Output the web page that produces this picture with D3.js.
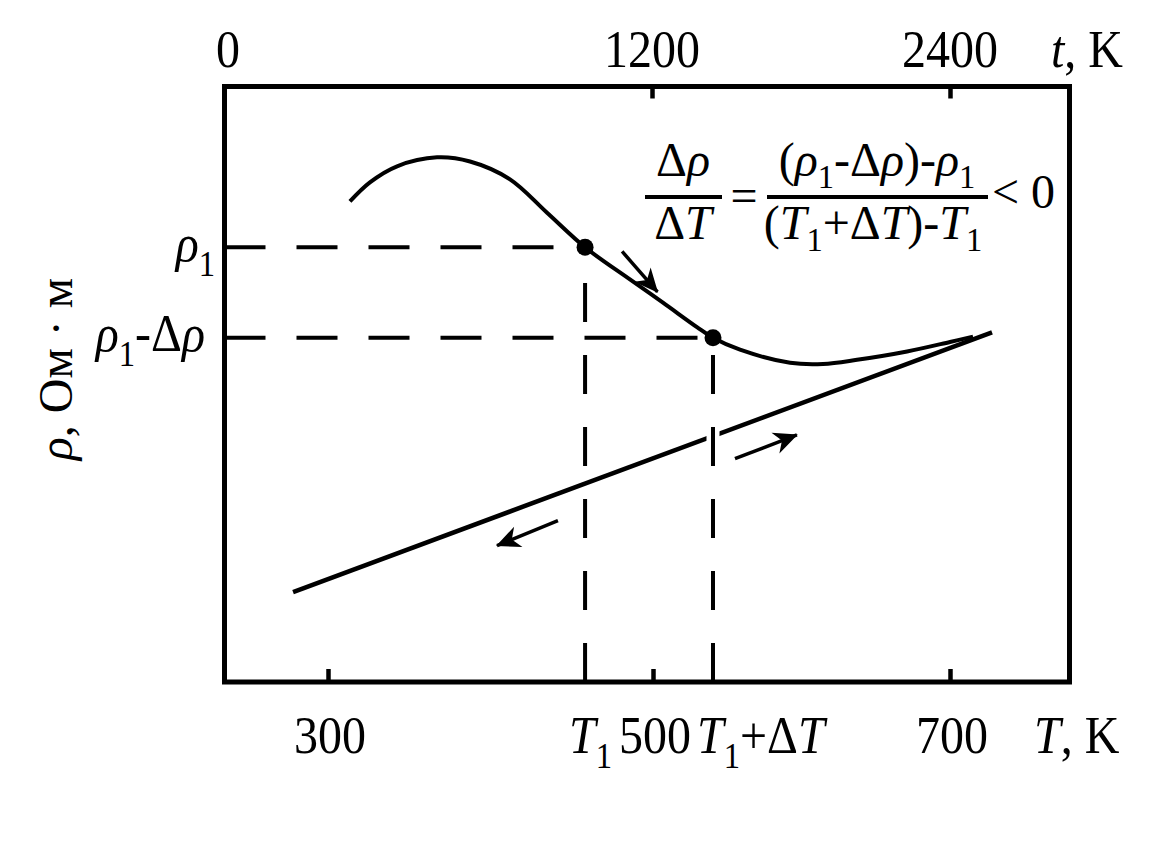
<!DOCTYPE html>
<html><head><meta charset="utf-8">
<script src="https://cdn.jsdelivr.net/npm/d3@7"></script>
<style>
body{margin:0;background:#fff}
svg{display:block}
text{font-family:"Liberation Serif","Times New Roman",serif;fill:#000}
</style>
</head><body><svg id="c" width="1174" height="860"></svg>
<script>
// ---- data (schematic values) ----
const bottomTicks = [300, 500, 700];
const bottomTickLabels = ["300", "500", "700"];
const topTicks = [0, 1200, 2400];
const topTickLabels = ["0", "1200", "2400"];
const curveT   = [313.5, 325.8, 342.5, 367.1, 387.4, 412.0, 434.8, 458.2, 485.8, 506.7, 529.6, 540.4, 558.6, 592.3, 614.5, 637.4, 671.1, 700.0, 715.5];
const curveRho = [80.7, 83.9, 86.6, 88.1, 87.4, 84.4, 78.8, 73.0, 67.6, 63.7, 59.6, 57.8, 55.8, 53.6, 53.4, 54.1, 55.5, 57.1, 58.0];
const lineT   = [278.5, 728.3];
const lineRho = [15.1, 58.7];
const markT   = [458.2, 540.4];   // T1, T1+ΔT
const markRho = [73.0, 57.8];     // ρ1, ρ1-Δρ
const arrowFromT   = [481.0, 555.2, 441.5];
const arrowFromRho = [72.3, 37.5, 27.1];
const arrowToT     = [503.0, 596.9, 404.0];
const arrowToRho   = [65.5, 41.5, 22.9];

// ---- layout ----
const frame = {left: 224.5, right: 1069.5, top: 86.5, bottom: 682};
const FS = 48, SY = 1.1;

const svg = d3.select("#c");
const x = d3.scaleLinear().domain([300, 500, 700]).range([328, 653, 950]);
const xt = d3.scaleLinear().domain([0, 1200, 2400]).range([228, 652, 950]);
const y = d3.scaleLinear().domain([0, 100]).range([frame.bottom, frame.top]);
const T0 = x.invert(frame.left);

// arrow marker
const defs = svg.append("defs");
defs.append("marker").attr("id", "ah")
  .attr("markerUnits", "userSpaceOnUse")
  .attr("viewBox", "-26 -13 28 26").attr("refX", 0).attr("refY", 0)
  .attr("markerWidth", 28).attr("markerHeight", 26).attr("orient", "auto")
  .append("path").attr("d", "M1,0 L-23,-11 L-16,0 L-23,11 Z").attr("fill", "#000");

// frame
svg.append("rect").attr("x", frame.left).attr("y", frame.top)
  .attr("width", frame.right - frame.left).attr("height", frame.bottom - frame.top)
  .attr("fill", "none").attr("stroke", "#000").attr("stroke-width", 5);

// ticks through d3 axes
const axB = svg.append("g").attr("transform", `translate(0,${frame.bottom})`)
  .call(d3.axisBottom(x).tickValues(bottomTicks).tickSize(-13).tickFormat(""));
const axT = svg.append("g").attr("transform", `translate(0,${frame.top})`)
  .call(d3.axisTop(xt).tickValues(topTicks.slice(1)).tickSize(-12).tickFormat(""));
[axB, axT].forEach(a => {
  a.select(".domain").remove();
  a.selectAll(".tick line").attr("stroke", "#000").attr("stroke-width", 4.5);
});

// dashed guide lines
const dashH = "41,31", dashV = "39,33";
markRho.forEach((r, i) => {
  svg.append("line").attr("x1", x(T0)).attr("x2", x(markT[i]))
    .attr("y1", y(r)).attr("y2", y(r))
    .attr("stroke", "#000").attr("stroke-width", 4).attr("stroke-dasharray", dashH);
});

// straight line
const lineGen = d3.line().x(d => x(d[0])).y(d => y(d[1]));
svg.append("path").datum(lineT.map((t, i) => [t, lineRho[i]]))
  .attr("d", lineGen).attr("fill", "none").attr("stroke", "#000").attr("stroke-width", 4.5);

// vertical dashed lines (with white halo where crossing the line)
markT.forEach((t, i) => {
  svg.append("line").attr("x1", x(t)).attr("x2", x(t))
    .attr("y1", frame.bottom - 4).attr("y2", y(markRho[i]))
    .attr("stroke", "#fff").attr("stroke-width", 13).attr("stroke-dasharray", "39,33")
    .attr("stroke-dashoffset", -4);
  svg.append("line").attr("x1", x(t)).attr("x2", x(t))
    .attr("y1", frame.bottom).attr("y2", y(markRho[i]))
    .attr("stroke", "#000").attr("stroke-width", 4).attr("stroke-dasharray", dashV);
});

// curve
const curveGen = d3.line().x(d => x(d[0])).y(d => y(d[1])).curve(d3.curveCatmullRom.alpha(0.5));
svg.append("path").datum(curveT.map((t, i) => [t, curveRho[i]]))
  .attr("d", curveGen).attr("fill", "none").attr("stroke", "#000").attr("stroke-width", 4);

// dots
svg.selectAll("circle.pt").data(markT).join("circle")
  .attr("cx", d => x(d)).attr("cy", (d, i) => y(markRho[i])).attr("r", 8.5).attr("fill", "#000");

// arrows
arrowFromT.forEach((t, i) => {
  svg.append("line").attr("x1", x(t)).attr("y1", y(arrowFromRho[i]))
    .attr("x2", x(arrowToT[i])).attr("y2", y(arrowToRho[i]))
    .attr("stroke", "#000").attr("stroke-width", 3.5).attr("marker-end", "url(#ah)");
});

// ---- text helper ----
function mtext(px, py, parts, anchor, size, sy, subShift) {
  size = size || FS;
  sy = sy || SY;
  subShift = subShift || 0.28;
  const t = svg.append("text").attr("transform", `translate(${px},${py}) scale(1,${sy})`)
    .attr("text-anchor", anchor || "start").attr("font-size", size);
  let shifted = false;
  parts.forEach(p => {
    const s = t.append("tspan").text(p.t);
    if (p.i) s.attr("font-style", "italic");
    if (p.sub) {
      s.attr("font-size", size * 0.68).attr("dy", size * subShift);
      shifted = true;
    } else if (shifted) {
      s.attr("dy", -size * subShift);
      shifted = false;
    }
  });
  return t;
}

// top labels
topTicks.forEach((v, i) => mtext(xt(v), 67, [{t: topTickLabels[i]}], "middle"));
mtext(1051, 67, [{t: "t", i: true}, {t: ", K"}]);

// bottom labels
bottomTicks.forEach((v, i) => mtext(x(v) + 2, 753, [{t: bottomTickLabels[i]}], "middle"));
mtext(x(markT[0]) - 16, 753, [{t: "T", i: true}, {t: "1", sub: true}]);
mtext(x(markT[1]) - 16, 753, [{t: "T", i: true}, {t: "1", sub: true}, {t: "+Δ"}, {t: "T", i: true}]);
mtext(1034, 753, [{t: "T", i: true}, {t: ", K"}]);

// left labels
mtext(215, y(markRho[0]) + 14, [{t: "ρ", i: true}, {t: "1", sub: true}], "end");
mtext(205, y(markRho[1]) + 13, [{t: "ρ", i: true}, {t: "1", sub: true}, {t: "-Δ"}, {t: "ρ", i: true}], "end");

// y title
const yl = svg.append("text").attr("transform", "translate(72,369) rotate(-90)")
  .attr("text-anchor", "middle").attr("font-size", FS);
yl.append("tspan").attr("font-style", "italic").text("ρ");
yl.append("tspan").text(", Ом · м");

// formula
const FF = 48, FSY = 1.0, FSUB = 0.24;
const barY = 197;
svg.append("line").attr("x1", 645).attr("x2", 722).attr("y1", barY).attr("y2", barY)
  .attr("stroke", "#000").attr("stroke-width", 4);
svg.append("line").attr("x1", 767).attr("x2", 988).attr("y1", barY).attr("y2", barY)
  .attr("stroke", "#000").attr("stroke-width", 4);
mtext(683, 176, [{t: "Δ"}, {t: "ρ", i: true}], "middle", FF, FSY, FSUB);
mtext(683, 239, [{t: "Δ"}, {t: "T", i: true}], "middle", FF, FSY, FSUB);
mtext(744, 212, [{t: "="}], "middle", FF, FSY, FSUB);
mtext(877, 176, [{t: "("}, {t: "ρ", i: true}, {t: "1", sub: true}, {t: "-Δ"}, {t: "ρ", i: true}, {t: ")-"}, {t: "ρ", i: true}, {t: "1", sub: true}], "middle", FF, FSY, FSUB);
mtext(873, 239, [{t: "("}, {t: "T", i: true}, {t: "1", sub: true}, {t: "+Δ"}, {t: "T", i: true}, {t: ")-"}, {t: "T", i: true}, {t: "1", sub: true}], "middle", FF, FSY, FSUB);
mtext(992, 208, [{t: "< 0"}], "start", FF, FSY, FSUB);
</script>
</body></html>
